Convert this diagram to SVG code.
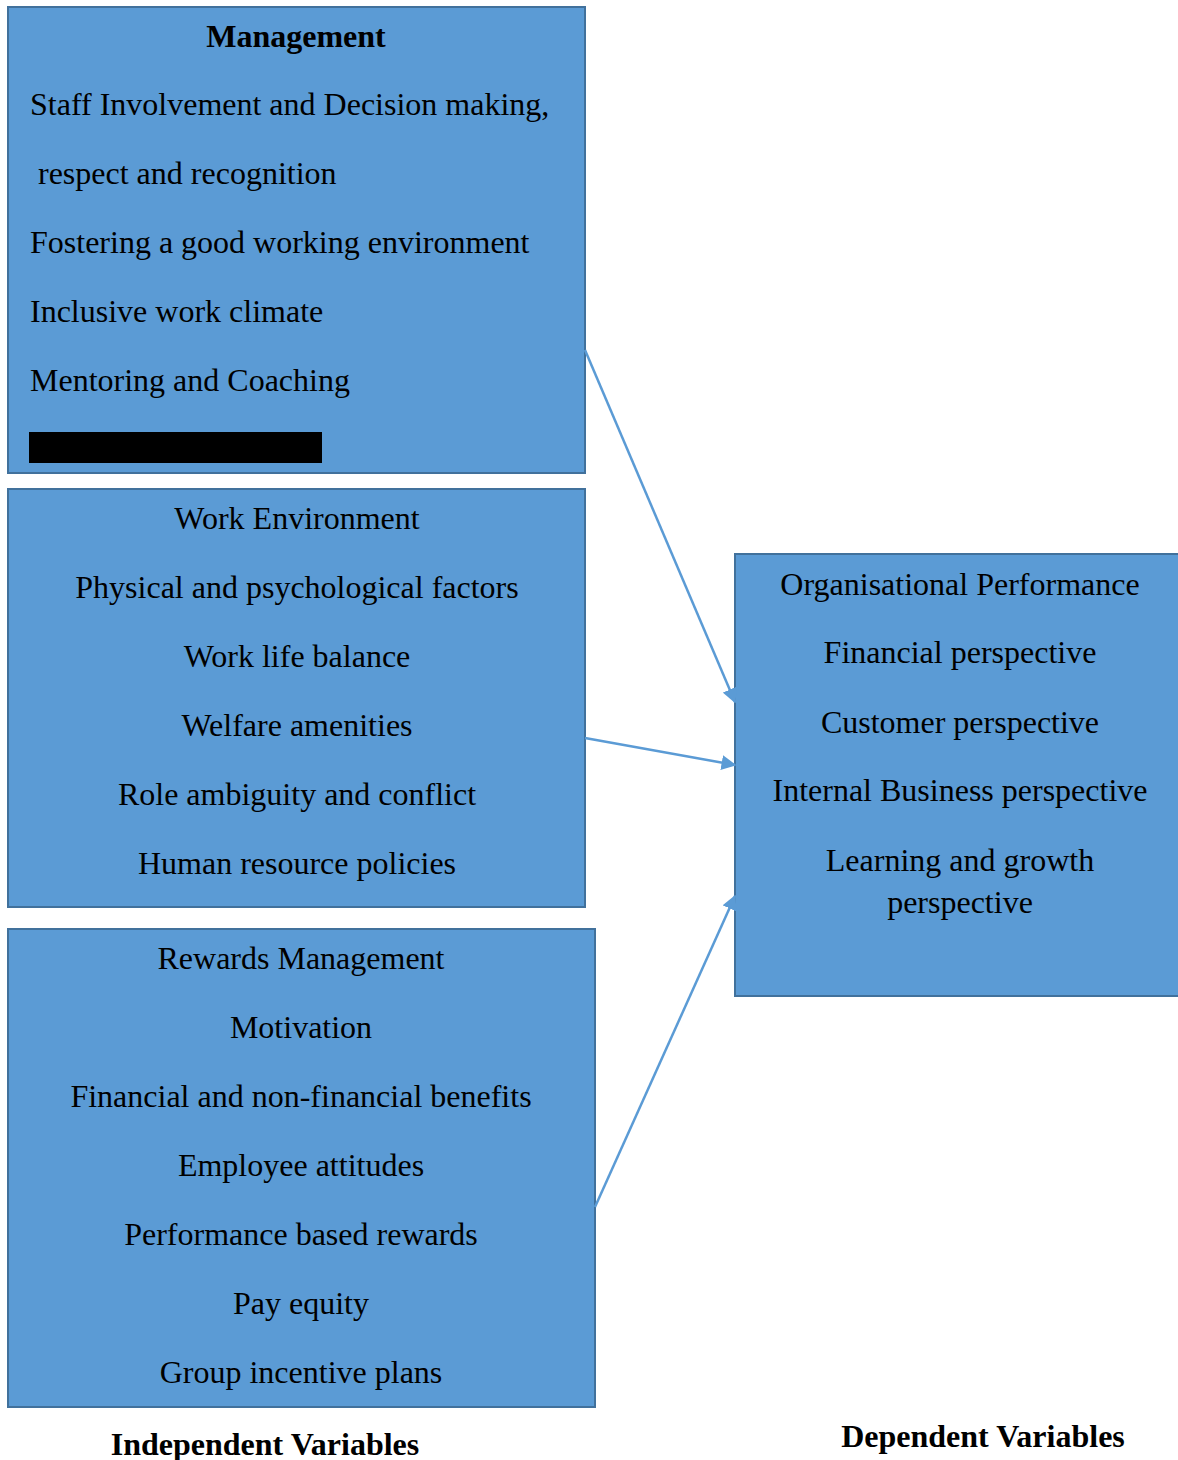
<svg xmlns="http://www.w3.org/2000/svg" width="1178" height="1460" viewBox="0 0 1178 1460">
<style>
.box{fill:#5B9BD5;stroke:#41719C;stroke-width:2}
text{font-family:"Liberation Serif","Times New Roman",serif;font-size:32px;fill:#000}
.c{text-anchor:middle}
.b{font-weight:bold}
.conn{stroke:#5B9BD5;stroke-width:2.5;fill:none;marker-end:url(#ah)}
</style>
<defs>
<marker id="ah" viewBox="0 0 10 10" refX="9" refY="5" markerWidth="6" markerHeight="6" orient="auto" markerUnits="strokeWidth">
<path d="M0,0 L10,5 L0,10 z" fill="#5B9BD5"/>
</marker>
</defs>
<rect width="1178" height="1460" fill="#fff"/>
<g id="management">
<rect class="box" x="8" y="7" width="577" height="466"/>
<text class="c b" x="296" y="47">Management</text>
<text x="30" y="115">Staff Involvement and Decision making,</text>
<text x="30" y="184" xml:space="preserve"> respect and recognition</text>
<text x="30" y="253">Fostering a good working environment</text>
<text x="30" y="322">Inclusive work climate</text>
<text x="30" y="391">Mentoring and Coaching</text>
<rect x="29" y="432" width="293" height="31" fill="#000"/>
</g>
<g id="work-environment">
<rect class="box" x="8" y="489" width="577" height="418"/>
<text class="c" x="297" y="529">Work Environment</text>
<text class="c" x="297" y="598">Physical and psychological factors</text>
<text class="c" x="297" y="667">Work life balance</text>
<text class="c" x="297" y="736">Welfare amenities</text>
<text class="c" x="297" y="805">Role ambiguity and conflict</text>
<text class="c" x="297" y="874">Human resource policies</text>
</g>
<g id="rewards">
<rect class="box" x="8" y="929" width="587" height="478"/>
<text class="c" x="301" y="969">Rewards Management</text>
<text class="c" x="301" y="1038">Motivation</text>
<text class="c" x="301" y="1107">Financial and non-financial benefits</text>
<text class="c" x="301" y="1176">Employee attitudes</text>
<text class="c" x="301" y="1245">Performance based rewards</text>
<text class="c" x="301" y="1314">Pay equity</text>
<text class="c" x="301" y="1383">Group incentive plans</text>
</g>
<g id="performance">
<rect class="box" x="735" y="554" width="450" height="442"/>
<text class="c" x="960" y="595">Organisational Performance</text>
<text class="c" x="960" y="663">Financial perspective</text>
<text class="c" x="960" y="733">Customer perspective</text>
<text class="c" x="960" y="801">Internal Business perspective</text>
<text class="c" x="960" y="871">Learning and growth</text>
<text class="c" x="960" y="913">perspective</text>
</g>
<g id="connectors">
<line class="conn" x1="585" y1="350" x2="735" y2="702"/>
<line class="conn" x1="585" y1="738" x2="735" y2="765"/>
<line class="conn" x1="595" y1="1207" x2="735" y2="896"/>
</g>
<g id="labels">
<text class="c b" x="265" y="1455">Independent Variables</text>
<text class="c b" x="983" y="1447">Dependent Variables</text>
</g>
</svg>
